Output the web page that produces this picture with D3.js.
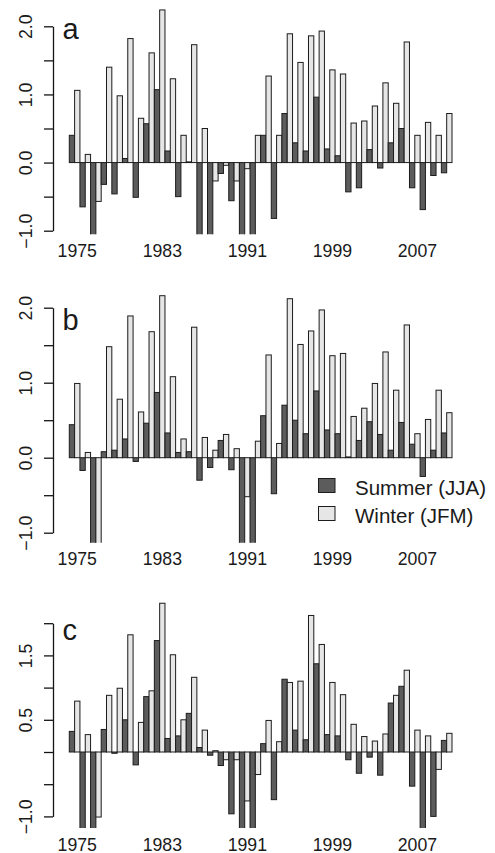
<!DOCTYPE html>
<html>
<head>
<meta charset="utf-8">
<script src="https://cdn.jsdelivr.net/npm/d3@7"></script>
<style>
  html, body { margin: 0; padding: 0; background: #fff; }
  svg { display: block; font-family: "Liberation Sans", Arial, Helvetica, sans-serif; }
</style>
</head>
<body>
<svg id="chart" width="495" height="853" viewBox="0 0 495 853"></svg>
<script>
// Years shown on the x axis (one summer + one winter bar per year)
const years = d3.range(1975, 2011);
const yearTicks = [1975, 1983, 1991, 1999, 2007];
const seriesNames = ["Summer (JJA)", "Winter (JFM)"];

// Panel a – anomalies; bars below the plot floor are cut off
const summerA = [0.40, -0.65, -1.20, -0.32, -0.46, 0.06, -0.51, 0.57, 1.07, 0.17, -0.50, 0.01,
  -1.20, -1.20, -0.16, -0.56, -1.20, -1.20, 0.40, -0.82, 0.72, 0.29, 0.17, 0.96,
  0.20, 0.10, -0.43, -0.37, 0.19, -0.08, 0.29, 0.50, -0.37, -0.69, -0.19, -0.15];
const winterA = [1.06, 0.12, -0.57, 1.40, 0.98, 1.82, 0.65, 1.61, 2.24, 1.23, 0.40, 1.73,
  0.50, -0.27, -0.04, -0.27, -0.09, 0.40, 1.27, 0.40, 1.89, 1.47, 1.86, 1.93,
  1.36, 1.30, 0.58, 0.61, 0.83, 1.17, 0.87, 1.77, 0.40, 0.59, 0.40, 0.72];

// Panel b
const summerB = [0.44, -0.17, -1.20, 0.08, 0.10, 0.25, -0.05, 0.46, 0.87, 0.33, 0.07, 0.08,
  -0.30, -0.13, 0.23, -0.16, -1.20, -1.20, 0.56, -0.48, 0.70, 0.50, 0.32, 0.89,
  0.37, 0.32, 0.01, 0.23, 0.48, 0.31, 0.10, 0.47, 0.18, -0.25, 0.10, 0.33];
const winterB = [0.99, 0.07, -1.20, 1.48, 0.78, 1.89, 0.61, 1.68, 2.16, 1.08, 0.25, 1.74,
  0.27, 0.10, 0.31, 0.12, -0.52, 0.22, 1.37, 0.19, 2.12, 1.51, 1.69, 1.97,
  1.36, 1.39, 0.55, 0.66, 0.99, 1.41, 0.90, 1.77, 0.32, 0.51, 0.90, 0.60];

// Panel c
const summerC = [0.32, -1.30, -1.30, 0.35, -0.02, 0.50, -0.20, 0.86, 1.73, 0.21, 0.25, 0.60,
  0.07, -0.05, -0.21, -0.96, -1.30, -1.30, 0.13, -0.74, 1.13, 0.34, 0.19, 1.37,
  0.27, 0.25, -0.12, -0.33, -0.08, -0.36, 0.76, 1.02, -0.53, -1.30, -1.00, 0.18];
const winterC = [0.79, 0.27, -1.01, 0.88, 0.99, 1.82, 0.46, 0.95, 2.31, 1.51, 0.50, 1.16,
  0.34, 0.02, -0.12, -0.12, -0.76, -0.35, 0.49, 0.16, 1.08, 1.10, 2.12, 1.67,
  1.08, 0.89, 0.43, 0.24, 0.17, 0.28, 0.88, 1.27, 0.34, 0.25, -0.27, 0.29];

// Y tick positions and which of them carry a label, per panel
const yTicks = [-1, -0.5, 0, 0.5, 1, 1.5, 2];
const yLabelsAB = [-1, 0, 1, 2];
const yLabelsC = [-1, 0.5, 1.5];

const colSummer = "#5c5c5c";
const colWinter = "#e6e6e6";
const colStroke = "#1c1c1c";
const colAxis = "#141414";
const FONT = '"Liberation Sans", Arial, Helvetica, sans-serif';

const svg = d3.select("#chart");
const defs = svg.append("defs");

// layout of each panel: pixel range of the y axis (-1 .. 2) and the lower edge of the plot area
const panels = [
  { id: "a", summer: summerA, winter: winterA, yRange: [230.7, 26.3], floor: 234.3, labels: yLabelsAB, letterY: 38.5 },
  { id: "b", summer: summerB, winter: winterB, yRange: [532.7, 307.7], floor: 542.7, labels: yLabelsAB, letterY: 330 },
  { id: "c", summer: summerC, winter: winterC, yRange: [816.4, 623.2], floor: 828.0, labels: yLabelsC, letterY: 639.5 }
];

const axisX = 53;
const tickLen = 9;
const x = d3.scaleBand().domain(years).range([69.3, 452.0]).paddingInner(0).paddingOuter(0);
const xs = d3.scaleBand().domain(["s", "w"]).range([0, x.bandwidth()]);

panels.forEach(p => {
  const y = d3.scaleLinear().domain([-1, 2]).range(p.yRange);
  const g = svg.append("g").attr("class", "panel-" + p.id);

  const clipId = "clip-" + p.id;
  defs.append("clipPath").attr("id", clipId)
    .append("rect")
    .attr("x", 60).attr("width", 435)
    .attr("y", 0).attr("height", p.floor);

  const rows = years.map((yr, i) => ({ year: yr, s: p.summer[i], w: p.winter[i] }));
  const bars = g.append("g").attr("clip-path", `url(#${clipId})`);
  const pairs = bars.selectAll("g.pair").data(rows).join("g")
    .attr("class", "pair")
    .attr("transform", d => `translate(${x(d.year)},0)`);

  ["s", "w"].forEach(k => {
    pairs.append("rect")
      .attr("x", xs(k))
      .attr("width", xs.bandwidth())
      .attr("y", d => y(Math.max(0, d[k])))
      .attr("height", d => Math.abs(y(d[k]) - y(0)))
      .attr("fill", k === "s" ? colSummer : colWinter)
      .attr("stroke", colStroke)
      .attr("stroke-width", 1);
  });

  // y axis: spine and tick marks from the y scale, labels rotated
  const yAxis = d3.axisLeft(y)
    .tickValues(yTicks)
    .tickSize(tickLen)
    .tickSizeOuter(0)
    .tickFormat(v => p.labels.includes(v) ? d3.format(".1f")(v).replace("-", "\u2212") : "");
  const ya = g.append("g").attr("class", "y-axis")
    .attr("transform", `translate(${axisX},0)`)
    .call(yAxis);
  ya.select(".domain").attr("stroke", colAxis).attr("stroke-width", 1.3);
  ya.selectAll(".tick line").attr("stroke", colAxis).attr("stroke-width", 1.3);
  ya.selectAll(".tick text")
    .attr("x", null).attr("dy", null)
    .attr("transform", "translate(-21,0) rotate(-90)")
    .attr("text-anchor", "middle")
    .attr("fill", "#1a1a1a")
    .style("font-size", "17.7px")
    .style("font-family", FONT);

  // x axis: labels only, centred under the winter bar of each labelled year
  const xAxis = d3.axisBottom(x).tickValues(yearTicks).tickSize(0).tickSizeOuter(0);
  const xa = g.append("g")
    .attr("transform", `translate(${x.bandwidth() / 4},${p.floor + 22.5})`)
    .call(xAxis);
  xa.select(".domain").remove();
  xa.selectAll(".tick line").remove();
  xa.selectAll(".tick text")
    .attr("y", 0).attr("dy", null)
    .attr("fill", "#1a1a1a")
    .style("font-size", "17.7px")
    .style("font-family", FONT);

  // panel letter
  g.append("text")
    .attr("x", 62.5).attr("y", p.letterY)
    .attr("fill", "#1a1a1a")
    .style("font-size", "29px")
    .style("font-family", FONT)
    .text(p.id);
});

// legend (in panel b)
const legend = svg.append("g").attr("class", "legend");
const legendRows = [
  { name: seriesNames[0], fill: colSummer, y: 478.5 },
  { name: seriesNames[1], fill: colWinter, y: 506.5 }
];
legendRows.forEach(r => {
  legend.append("rect")
    .attr("x", 318.5).attr("y", r.y)
    .attr("width", 16.5).attr("height", 14)
    .attr("fill", r.fill).attr("stroke", colStroke).attr("stroke-width", 1);
  legend.append("text")
    .attr("x", 355).attr("y", r.y + 16)
    .attr("fill", "#1a1a1a")
    .style("font-size", "20.5px")
    .style("font-family", FONT)
    .text(r.name);
});
</script>
</body>
</html>
